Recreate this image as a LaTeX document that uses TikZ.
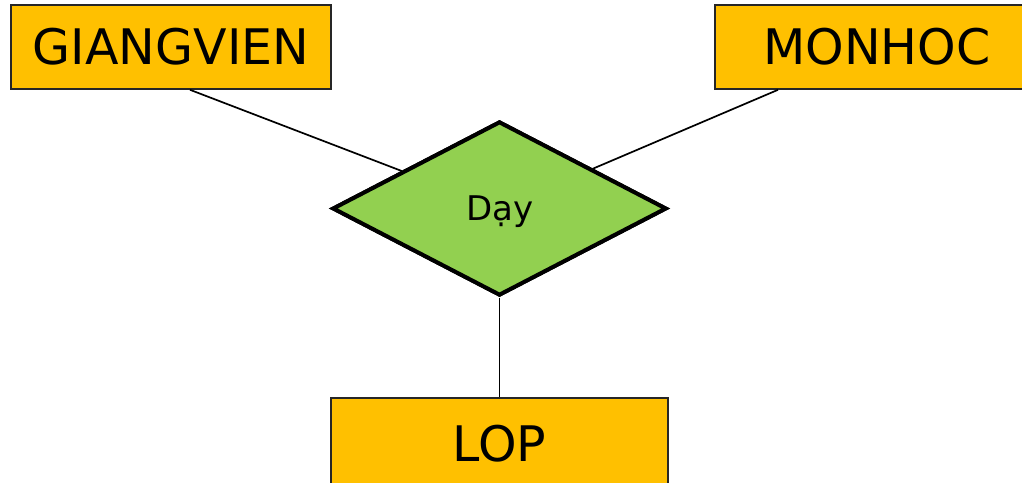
\documentclass[tikz,border=0pt]{standalone}
\usepackage{fontspec}
\setmainfont{DejaVu Sans}
\usetikzlibrary{shapes.geometric}
\definecolor{entityfill}{HTML}{FFC000}
\definecolor{relfill}{HTML}{92D050}
\tikzset{
  entity/.style={draw=black!85, fill=entityfill, line width=1.6pt, rectangle,
    inner sep=0pt, font=\fontsize{49}{58}\selectfont},
  relation/.style={draw=black, fill=relfill, line width=4pt, diamond,
    aspect=1.9, inner sep=0pt, minimum width=334pt, minimum height=174pt,
    font=\fontsize{34}{40}\selectfont},
  link/.style={draw=black, line width=1.7pt}
}
\begin{document}
\begin{tikzpicture}[x=1pt,y=-1pt]
  \useasboundingbox (0,0) rectangle (1022,482);
  \fill[white] (0,0) rectangle (1022,482);
  \clip (0,0) rectangle (1022,482);

  % entities
  \node[entity, minimum width=320pt, minimum height=84pt] (gv) at (171,47) {GIANGVIEN};
  \node[entity, minimum width=324pt, minimum height=84pt] (mh) at (877,47) {MONHOC};
  \node[entity, minimum width=337pt, minimum height=92pt] (lop) at (499.5,444) {LOP};

  % relationship
  \node[relation] (day) at (499.5,208.5) {};

  % connectors
  \path[link] ([xshift=19pt]gv.south) -- (day);
  \path[link] ([xshift=-99pt]mh.south) -- (day);
  \path[link] (day.south) -- (day.south |- lop.north);

  % redraw the diamond above the connector ends
  \node[relation] at (499.5,208.5) {};
  \node[font=\fontsize{34}{40}\selectfont] (daytext) at (500,212) {Dạy};
\end{tikzpicture}
\end{document}
